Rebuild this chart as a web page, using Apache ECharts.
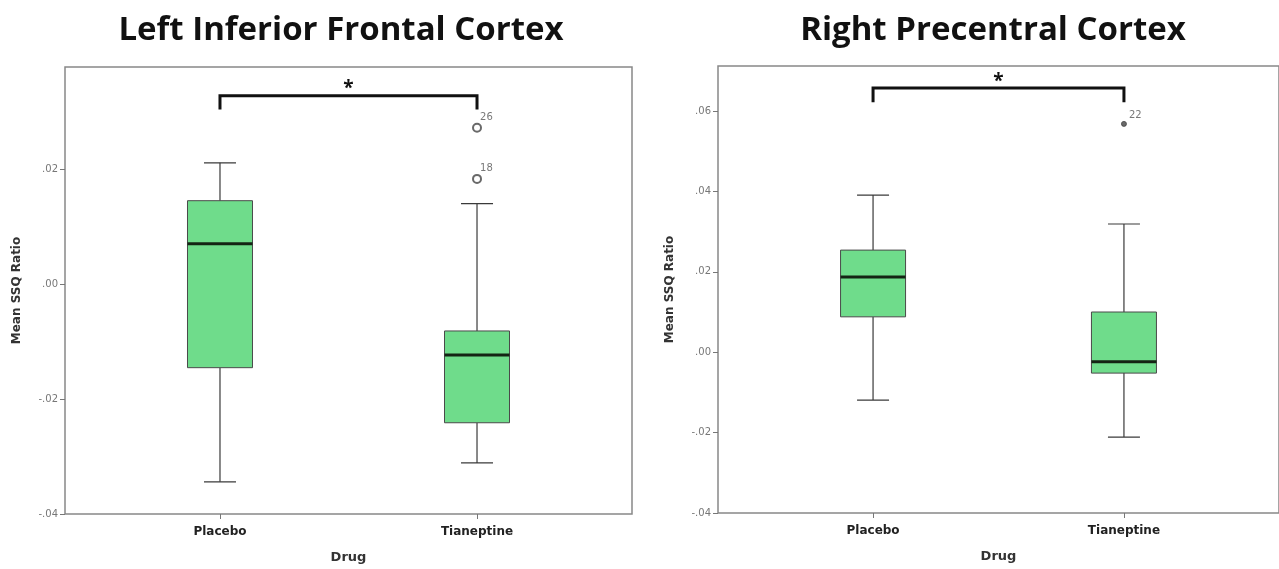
<!DOCTYPE html>
<html><head><meta charset="utf-8">
<script src="https://cdn.jsdelivr.net/npm/echarts@6/dist/echarts.min.js"></script>
<style>html,body{margin:0;padding:0;background:#fff}#c{width:1279px;height:569px}</style>
</head><body><div id="c"></div>
<script>
const categories = ['Placebo', 'Tianeptine'];
const leftTitle = 'Left Inferior Frontal Cortex';
const rightTitle = 'Right Precentral Cortex';
const yName = 'Mean SSQ Ratio';
const xName = 'Drug';
// [min, Q1, median, Q3, max]
const leftBoxes = [[-0.0344, -0.0145, 0.0071, 0.0146, 0.0212], [-0.0311, -0.0241, -0.0123, -0.0081, 0.0141]];
const rightBoxes = [[-0.0119, 0.0088, 0.0187, 0.0254, 0.0391], [-0.0211, -0.0052, -0.0024, 0.0100, 0.0319]];
// [category index, value, case label]
const leftOutliers = [[1, 0.0273, '26'], [1, 0.0184, '18']];
const rightOutliers = [[1, 0.0568, '22']];
// [from category, to category, bracket top, bracket ends]
const leftSig = [[0, 1, 0.0329, 0.0305]];
const rightSig = [[0, 1, 0.0657, 0.0622]];
const leftYTicks = [-0.04, -0.02, 0, 0.02];
const rightYTicks = [-0.04, -0.02, 0, 0.02, 0.04, 0.06];

const fmt = v => (v < 0 ? '-' : '') + Math.abs(v).toFixed(2).replace(/^0/, '');

function boxRender(params, api) {
  const x = api.value(0);
  const lo = api.coord([x, api.value(1)]);
  const q1 = api.coord([x, api.value(2)]);
  const md = api.coord([x, api.value(3)]);
  const q3 = api.coord([x, api.value(4)]);
  const hi = api.coord([x, api.value(5)]);
  const cx = lo[0], hw = 32.5, cw = 16;
  const ws = {stroke: '#3a3a3a', lineWidth: 1.2};
  return {type: 'group', children: [
    {type: 'line', shape: {x1: cx, y1: hi[1], x2: cx, y2: q3[1]}, style: ws},
    {type: 'line', shape: {x1: cx, y1: q1[1], x2: cx, y2: lo[1]}, style: ws},
    {type: 'line', shape: {x1: cx - cw, y1: hi[1], x2: cx + cw, y2: hi[1]}, style: ws},
    {type: 'line', shape: {x1: cx - cw, y1: lo[1], x2: cx + cw, y2: lo[1]}, style: ws},
    {type: 'rect', shape: {x: cx - hw, y: q3[1], width: 2 * hw, height: q1[1] - q3[1]}, style: {fill: '#6fdc8b', stroke: '#4a4a4a', lineWidth: 1}},
    {type: 'line', shape: {x1: cx - hw, y1: md[1], x2: cx + hw, y2: md[1]}, style: {stroke: '#142414', lineWidth: 3}}
  ]};
}
function sigRender(params, api) {
  const a0 = api.coord([api.value(0), api.value(3)]);
  const a1 = api.coord([api.value(0), api.value(2)]);
  const b1 = api.coord([api.value(1), api.value(2)]);
  const b0 = api.coord([api.value(1), api.value(3)]);
  return {type: 'group', children: [
    {type: 'polyline', shape: {points: [a0, a1, b1, b0]}, style: {stroke: '#111', lineWidth: 3, fill: null}},
    {type: 'text', style: {x: (a1[0] + b1[0]) / 2, y: a1[1] - 7, text: '*', fill: '#111', font: 'bold 19px "Open Sans"', align: 'center', verticalAlign: 'middle'}}
  ]};
}

function xAxisFor(gi, min, max) {
  return {type: 'value', gridIndex: gi, min: min, max: max, name: xName, nameLocation: 'middle', nameGap: 37,
    nameTextStyle: {fontSize: 13, fontWeight: 'bold', color: '#333', fontFamily: 'DejaVu Sans'},
    axisLine: {show: false, onZero: false}, splitLine: {show: false},
    axisTick: {show: true, customValues: [0, 1], length: 5, lineStyle: {color: '#777'}},
    axisLabel: {customValues: [0, 1], formatter: v => categories[Math.round(v)], margin: 12,
      fontSize: 12, fontWeight: 'bold', color: '#222', fontFamily: 'DejaVu Sans'}};
}
function yAxisFor(gi, min, max, ticks) {
  return {type: 'value', gridIndex: gi, min: min, max: max, name: yName, nameLocation: 'middle', nameGap: 42, nameRotate: 90,
    nameTextStyle: {fontSize: 12, fontWeight: 'bold', color: '#333', fontFamily: 'DejaVu Sans'},
    axisLine: {show: false, onZero: false}, splitLine: {show: false},
    axisTick: {show: true, customValues: ticks, length: 5, lineStyle: {color: '#777'}},
    axisLabel: {customValues: ticks, formatter: fmt, margin: 7, fontSize: 10, color: '#777', fontFamily: 'DejaVu Sans'}};
}
function outlierSeries(gi, data, symbol, size) {
  return {type: 'scatter', xAxisIndex: gi, yAxisIndex: gi, data: data, symbol: symbol, symbolSize: size,
    itemStyle: {color: '#444', borderColor: '#444', borderWidth: 1},
    label: {show: true, formatter: p => p.data[2], position: [8, -10], fontSize: 10, color: '#555', fontFamily: 'DejaVu Sans'}};
}

const chart = echarts.init(document.getElementById('c'));
chart.setOption({
  animation: false,
  title: [
    {text: leftTitle, left: 336, top: 9, textAlign: 'center', textStyle: {fontSize: 33, fontWeight: 'bold', color: '#111', fontFamily: 'Open Sans'}},
    {text: rightTitle, left: 988, top: 9, textAlign: 'center', textStyle: {fontSize: 33, fontWeight: 'bold', color: '#111', fontFamily: 'Open Sans'}}
  ],
  grid: [
    {left: 65, top: 67, width: 567, height: 447, show: true, borderColor: '#888', borderWidth: 1.5, backgroundColor: 'transparent'},
    {left: 718, top: 66, width: 568, height: 447, show: true, borderColor: '#888', borderWidth: 1.5, backgroundColor: 'transparent'}
  ],
  xAxis: [xAxisFor(0, -0.603, 1.603), xAxisFor(1, -0.618, 1.618)],
  yAxis: [yAxisFor(0, -0.04, 0.0379, leftYTicks), yAxisFor(1, -0.04, 0.0712, rightYTicks)],
  series: [
    {type: 'custom', xAxisIndex: 0, yAxisIndex: 0, renderItem: boxRender, encode: {x: 0, y: [1, 2, 3, 4, 5]},
      data: leftBoxes.map((b, i) => [i].concat(b))},
    {type: 'custom', xAxisIndex: 1, yAxisIndex: 1, renderItem: boxRender, encode: {x: 0, y: [1, 2, 3, 4, 5]},
      data: rightBoxes.map((b, i) => [i].concat(b))},
    outlierSeries(0, leftOutliers, 'emptyCircle', 8),
    outlierSeries(1, rightOutliers, 'circle', 5),
    {type: 'custom', xAxisIndex: 0, yAxisIndex: 0, renderItem: sigRender, encode: {x: [0, 1], y: [2, 3]}, data: leftSig},
    {type: 'custom', xAxisIndex: 1, yAxisIndex: 1, renderItem: sigRender, encode: {x: [0, 1], y: [2, 3]}, data: rightSig}
  ]
});
</script>
</body></html>
